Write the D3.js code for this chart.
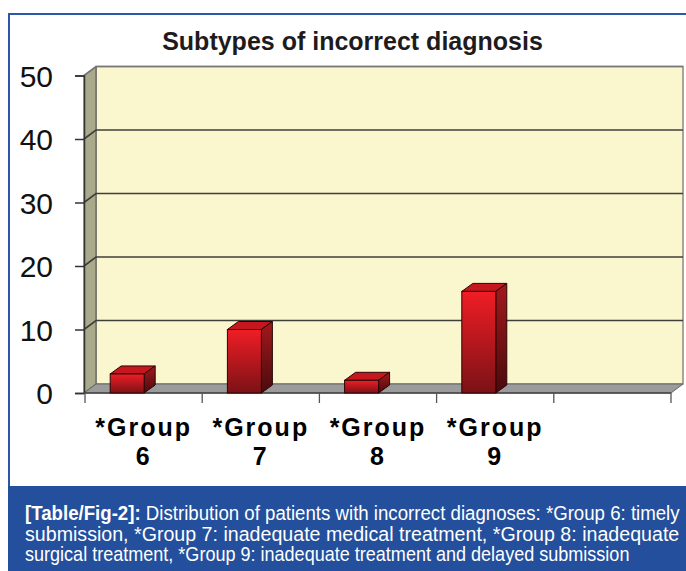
<!DOCTYPE html>
<html>
<head>
<meta charset="utf-8">
<script src="https://cdn.jsdelivr.net/npm/d3@7"></script>
<style>
  body { margin: 0; background: #fff; }
  svg { display: block; }
</style>
</head>
<body>
<div id="chart"></div>
<script>
const categories = ["*Group 6", "*Group 7", "*Group 8", "*Group 9", " "];
const values = [3, 10, 2, 16, null];
const yTicks = [0, 10, 20, 30, 40, 50];
const chartTitle = "Subtypes of incorrect diagnosis";
const captionLead = "[Table/Fig-2]:";
const captionLines = [
    " Distribution of patients with incorrect diagnoses: *Group 6: timely",
    "submission, *Group 7: inadequate medical treatment, *Group 8: inadequate",
    "surgical treatment, *Group 9: inadequate treatment and delayed submission"
];

const width = 686;
const height = 571;
const plot = { left: 84, right: 671, top: 75.5, bottom: 393 };
const depth = { dx: 12, dy: -9 };
const barDepth = { dx: 11, dy: -8 };

const svg = d3.select("#chart")
    .append("svg")
    .attr("width", width)
    .attr("height", height)
    .style("font-family", "'Liberation Sans', Arial, sans-serif");

const defs = svg.append("defs");
const frontGrad = defs.append("linearGradient").attr("id", "front").attr("x1", 0).attr("y1", 0).attr("x2", 0).attr("y2", 1);
frontGrad.append("stop").attr("offset", "0%").attr("stop-color", "#f01d25");
frontGrad.append("stop").attr("offset", "100%").attr("stop-color", "#7a1216");
const sideGrad = defs.append("linearGradient").attr("id", "side").attr("x1", 0).attr("y1", 0).attr("x2", 0).attr("y2", 1);
sideGrad.append("stop").attr("offset", "0%").attr("stop-color", "#a3191d");
sideGrad.append("stop").attr("offset", "100%").attr("stop-color", "#4a0b0c");

// outer frame of the figure
svg.append("rect")
    .attr("x", 9)
    .attr("y", 14)
    .attr("width", 700)
    .attr("height", 474)
    .attr("fill", "#fff")
    .attr("stroke", "#2b57a7")
    .attr("stroke-width", 2);

const x = d3.scaleBand()
    .domain(categories)
    .range([plot.left + 1, plot.right])
    .padding(0);

const y = d3.scaleLinear()
    .domain([0, 50])
    .range([plot.bottom, plot.top]);

// back wall
svg.append("rect")
    .attr("x", plot.left + depth.dx)
    .attr("y", plot.top + depth.dy)
    .attr("width", plot.right - plot.left)
    .attr("height", plot.bottom - plot.top)
    .attr("fill", "#faf7cf")
    .attr("stroke", "#8a8a80")
    .attr("stroke-width", 1.5);

// side wall
svg.append("polygon")
    .attr("points", [
        [plot.left, y(50)], [plot.left + depth.dx, y(50) + depth.dy],
        [plot.left + depth.dx, y(0) + depth.dy], [plot.left, y(0)]
    ].join(" "))
    .attr("fill", "#a9a98b")
    .attr("stroke", "#555")
    .attr("stroke-width", 1);

// gridlines
const grid = svg.append("g");
yTicks.filter((t) => t > 0).forEach((t) => {
    grid.append("polyline")
        .attr("points", [
            [plot.left, y(t)], [plot.left + depth.dx, y(t) + depth.dy],
            [plot.right + depth.dx, y(t) + depth.dy]
        ].join(" "))
        .attr("fill", "none")
        .attr("stroke", t === 50 ? "#777" : "#3f3f3a")
        .attr("stroke-width", 1.6);
});

// floor
svg.append("polygon")
    .attr("points", [
        [plot.left, y(0)], [plot.right, y(0)],
        [plot.right + depth.dx, y(0) + depth.dy], [plot.left + depth.dx, y(0) + depth.dy]
    ].join(" "))
    .attr("fill", "#9b9b9b")
    .attr("stroke", "#666")
    .attr("stroke-width", 1);

// y axis
const yAxis = svg.append("g")
    .attr("transform", `translate(${plot.left},0)`)
    .call(d3.axisLeft(y).tickValues(yTicks).tickSize(9).tickPadding(22));
yAxis.select(".domain").attr("stroke", "#333").attr("stroke-width", 1.5);
yAxis.selectAll(".tick line").attr("stroke", "#333").attr("stroke-width", 1.5);
yAxis.selectAll(".tick text")
    .attr("fill", "#111")
    .style("font-size", "30px")
    .attr("dy", "0.36em");

// x axis line and ticks at band edges
svg.append("line")
    .attr("x1", plot.left).attr("x2", plot.right)
    .attr("y1", y(0)).attr("y2", y(0))
    .attr("stroke", "#444").attr("stroke-width", 1.5);
const edges = categories.map((c) => x(c)).concat([x.range()[1]]);
svg.selectAll(".xtick")
    .data(edges)
    .enter()
    .append("line")
    .attr("x1", (d) => d).attr("x2", (d) => d)
    .attr("y1", y(0)).attr("y2", y(0) + 10)
    .attr("stroke", "#555").attr("stroke-width", 1.3);

// bars
const barData = categories.map((c, i) => ({ cat: c, value: values[i] })).filter((d) => d.value != null);
const bw = x.bandwidth() * 0.29;
const barX = (d) => x(d.cat) + x.bandwidth() * 0.215;
const bars = svg.selectAll(".bar")
    .data(barData)
    .enter()
    .append("g")
    .attr("class", "bar");

bars.append("polygon")
    .attr("points", (d) => [
        [barX(d), y(d.value)], [barX(d) + barDepth.dx, y(d.value) + barDepth.dy],
        [barX(d) + bw + barDepth.dx, y(d.value) + barDepth.dy], [barX(d) + bw, y(d.value)]
    ].join(" "))
    .attr("fill", "#c5171d")
    .attr("stroke", "#2a0505")
    .attr("stroke-width", 1);

bars.append("polygon")
    .attr("points", (d) => [
        [barX(d) + bw, y(d.value)], [barX(d) + bw + barDepth.dx, y(d.value) + barDepth.dy],
        [barX(d) + bw + barDepth.dx, y(0) + barDepth.dy], [barX(d) + bw, y(0)]
    ].join(" "))
    .attr("fill", "url(#side)")
    .attr("stroke", "#2a0505")
    .attr("stroke-width", 1);

bars.append("rect")
    .attr("x", barX)
    .attr("y", (d) => y(d.value))
    .attr("width", bw)
    .attr("height", (d) => y(0) - y(d.value))
    .attr("fill", "url(#front)")
    .attr("stroke", "#2a0505")
    .attr("stroke-width", 1);

// category labels, two lines each
const labelCats = categories.filter((c) => c.trim() !== "");
[0, 1].forEach((row) => {
    svg.selectAll(".xlabel" + row)
        .data(labelCats)
        .enter()
        .append("text")
        .attr("x", (d) => x(d) + x.bandwidth() / 2)
        .attr("y", row === 0 ? 436 : 465)
        .attr("text-anchor", "middle")
        .attr("fill", "#000")
        .style("font-size", "25px")
        .style("font-weight", "bold")
        .style("letter-spacing", "2px")
        .text((d) => d.split(" ")[row]);
});

// title
svg.append("text")
    .attr("x", 352.5)
    .attr("y", 50)
    .attr("text-anchor", "middle")
    .attr("fill", "#1f1b1c")
    .style("font-size", "25px")
    .style("font-weight", "bold")
    .text(chartTitle);

// caption box
svg.append("rect")
    .attr("x", 8)
    .attr("y", 486)
    .attr("width", width - 8)
    .attr("height", height - 486)
    .attr("fill", "#234f9c");

const capLeft = 25;
const capRight = 680;
const capBase = [520, 541, 561];
const capTargets = [capRight - capLeft, capRight - capLeft, 605];

captionLines.forEach((line, i) => {
    const t = svg.append("text")
        .attr("x", 0)
        .attr("y", 0)
        .attr("fill", "#fff")
        .style("font-size", "20px");
    if (i === 0) {
        t.append("tspan").style("font-weight", "bold").text(captionLead);
    }
    t.append("tspan").text(line);
    // squeeze the line horizontally to mimic the condensed caption face
    const natural = t.node().getComputedTextLength();
    const sx = capTargets[i] / natural;
    t.attr("transform", `translate(${capLeft},${capBase[i]}) scale(${sx},1)`);
});
</script>
</body>
</html>
